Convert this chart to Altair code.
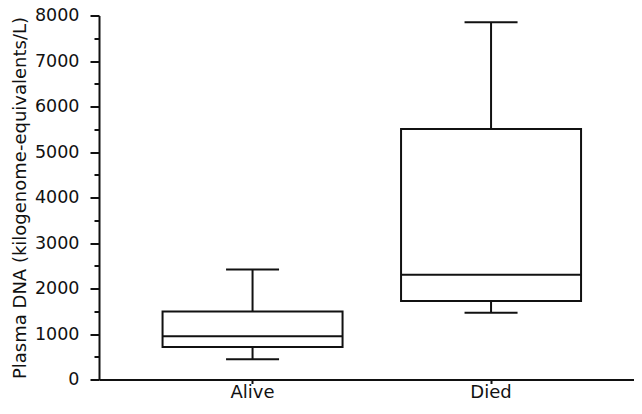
import altair as alt
import pandas as pd

groups = ["Alive", "Died"]
mins = [446, 1465]
q1s = [717, 1728]
medians = [952, 2300]
q3s = [1495, 5504]
maxs = [2419, 7850]
major_ticks = list(range(0, 8001, 1000))
minor_ticks = list(range(500, 8000, 1000))

df = pd.DataFrame({"group": groups, "min": mins, "q1": q1s, "median": medians, "q3": q3s, "max": maxs})

FONT = "DejaVu Sans"
INK = "#111111"

x = alt.X("group:N", sort=groups,
          scale=alt.Scale(paddingInner=0.24, paddingOuter=0.2416, align=0.546),
          axis=alt.Axis(title=None, labelAngle=0, tickSize=4, labelPadding=14,
                        labelBaseline="alphabetic",
                        labelFontSize=18, labelFont=FONT, labelColor=INK))
yscale = alt.Scale(domain=[0, 8000], nice=False)
yaxis = alt.Axis(title="Plasma DNA (kilogenome-equivalents/L)", values=major_ticks,
                 tickSize=9, orient="left",
                 labelPadding=11, labelFontSize=17.5, labelFont=FONT, labelColor=INK,
                 titleFont=FONT, titleFontSize=18, titleFontWeight="normal", titleColor=INK,
                 titlePadding=5, format="d")
minor_axis = alt.Axis(title=None, values=minor_ticks, tickSize=5, orient="left",
                      labels=False, domain=False)

base = alt.Chart(df)

upper = base.mark_rule(color=INK, strokeWidth=2).encode(
    x=x, y=alt.Y("q3:Q", scale=yscale, axis=yaxis), y2="max:Q")
lower = base.mark_rule(color=INK, strokeWidth=2).encode(
    x=x, y=alt.Y("min:Q", scale=yscale, axis=minor_axis), y2="q1:Q")
box = base.mark_bar(fill="white", stroke=INK, strokeWidth=2, size=180).encode(
    x=x, y=alt.Y("q1:Q", scale=yscale, axis=None), y2="q3:Q")
med = base.mark_tick(color=INK, thickness=2, size=180, opacity=1).encode(
    x=x, y=alt.Y("median:Q", scale=yscale, axis=None))
capmax = base.mark_tick(color=INK, thickness=2, size=53, opacity=1).encode(
    x=x, y=alt.Y("max:Q", scale=yscale, axis=None))
capmin = base.mark_tick(color=INK, thickness=2, size=53, opacity=1).encode(
    x=x, y=alt.Y("min:Q", scale=yscale, axis=None))

chart = alt.layer(upper, lower, box, med, capmax, capmin).resolve_axis(
    y="independent"
).properties(
    width=535, height=364,
    autosize=alt.AutoSizeParams(type="none"),
    padding={"left": 91, "top": 7.5, "right": 0, "bottom": 22.5},
).configure_view(stroke=None).configure_axis(
    grid=False, domainColor=INK, domainWidth=2, tickColor=INK, tickWidth=2
)

chart.save("out.html", embed_options={"renderer": "svg", "actions": False})
